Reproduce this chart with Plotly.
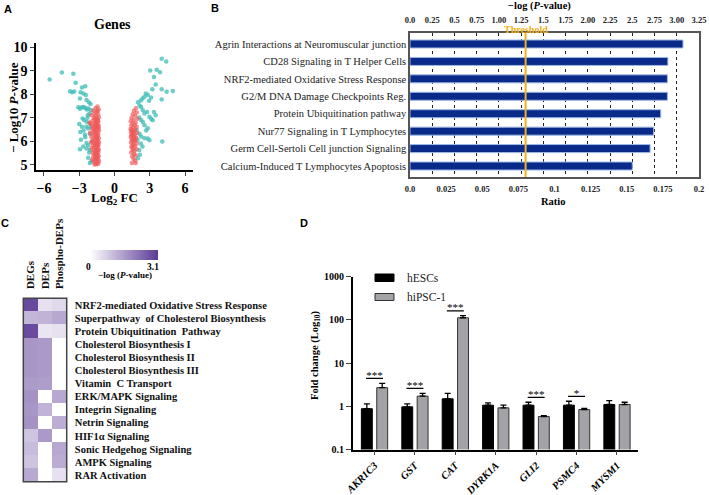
import plotly.graph_objects as go

W, H = 709, 495
def px(x): return x / W
def py(y): return 1 - y / H

SERIF = "Liberation Serif"
SANS = "Liberation Sans"

# ---------------- Panel A: volcano data ----------------
teal_left_x = [-5.52, -4.48, -3.50, -3.31, -3.78, -3.59, -3.42, -2.77, -2.49, -2.89, -2.66, -2.44, -2.94, -2.38,
               -2.18, -2.04, -3.08, -2.94, -2.77, -2.63, -2.49, -2.35, -2.21, -1.99, -2.13, -2.27, -2.58, -2.38,
               -2.13, -2.77, -2.41, -2.24, -2.63, -2.91, -2.52, -2.10, -2.86, -2.38, -2.24, -2.66, -2.38, -2.10,
               -2.94, -2.16, -2.24, -1.96, -2.10, -2.49, -2.72, -2.30, -3.00, -1.93, -2.04]
teal_left_y = [8.62, 8.92, 8.87, 8.49, 8.13, 8.08, 8.11, 8.28, 8.34, 8.08, 8.03, 7.97, 7.82, 7.75,
               7.66, 7.58, 7.44, 7.38, 7.44, 7.46, 7.41, 7.35, 7.39, 7.32, 7.18, 7.10, 6.90, 6.83,
               6.76, 6.62, 6.62, 6.54, 6.46, 6.39, 6.27, 6.32, 6.06, 5.92, 5.83, 5.77, 5.69, 5.63,
               5.66, 5.52, 5.30, 5.15, 5.07, 6.17, 6.97, 7.00, 6.73, 5.99, 6.62]
teal_right_x = [4.01, 4.40, 3.03, 3.59, 3.87, 3.36, 3.50, 3.22, 4.01, 4.43, 4.96, 2.66, 2.83, 2.55, 2.38, 2.24,
                3.11, 2.94, 4.01, 1.99, 2.13, 2.27, 2.41, 2.55, 2.77, 2.97, 3.36, 3.50, 3.11, 3.25, 2.10, 2.27,
                2.41, 2.55, 2.83, 2.69, 2.13, 2.27, 2.55, 2.83, 2.97, 4.06, 2.24, 2.38, 2.10, 2.16, 1.99, 1.88, 1.96]
teal_right_y = [9.51, 9.39, 9.01, 9.04, 8.93, 8.73, 8.41, 8.21, 8.21, 8.10, 8.14, 8.03, 7.97, 7.89, 7.82, 7.73,
                7.86, 7.72, 7.77, 7.66, 7.52, 7.45, 7.32, 7.18, 7.24, 7.04, 7.24, 7.10, 6.96, 6.89, 7.01, 6.90,
                6.82, 6.68, 6.55, 6.46, 6.32, 6.20, 6.13, 6.11, 6.04, 5.99, 5.90, 5.77, 5.63, 5.42, 5.28, 6.48, 6.06]
red_left_x = [-1.45, -1.62, -1.35, -1.80, -1.52, -1.70, -1.40, -1.95, -1.58, -1.33, -1.75, -1.48, -1.65, -1.88,
              -1.38, -1.55, -1.72, -1.43, -2.02, -1.60, -1.35, -1.82, -1.50, -1.68, -1.40, -1.92, -1.57, -1.32,
              -1.76, -1.46, -1.64, -1.85, -1.38, -1.53, -1.70, -1.44, -1.98, -1.60, -1.34, -1.80, -1.49, -1.67,
              -1.41, -1.89, -1.56, -1.31, -1.74, -1.47, -1.63, -1.37, -1.83, -1.52, -1.69, -1.42, -1.94, -1.58,
              -1.33, -1.78, -1.48, -1.65, -1.39, -1.86, -1.54, -1.71, -1.43, -1.60, -1.35, -1.81, -1.50, -1.66,
              -1.40, -1.90, -1.57, -1.32, -1.75, -1.46, -1.62, -1.38, -1.53, -1.70, -1.44, -1.59, -1.36, -1.51,
              -1.45, -1.55, -1.61, -1.73, -1.42, -1.58, -2.08, -1.99, -2.12, -1.47, -1.66]
red_left_y = [7.48, 7.40, 7.35, 7.30, 7.25, 7.18, 7.15, 7.10, 7.08, 7.02, 7.00, 6.95, 6.92, 6.88,
              6.85, 6.82, 6.78, 6.75, 6.72, 6.70, 6.66, 6.64, 6.60, 6.57, 6.54, 6.52, 6.48, 6.45,
              6.43, 6.40, 6.37, 6.33, 6.30, 6.28, 6.25, 6.21, 6.19, 6.16, 6.13, 6.11, 6.08, 6.05,
              6.02, 6.00, 5.97, 5.94, 5.92, 5.89, 5.86, 5.83, 5.81, 5.78, 5.75, 5.72, 5.70, 5.67,
              5.64, 5.62, 5.59, 5.56, 5.53, 5.51, 5.48, 5.45, 5.42, 5.39, 5.36, 5.34, 5.31, 5.28,
              5.25, 5.22, 5.19, 5.16, 5.13, 5.10, 5.07, 5.04, 5.02, 5.01, 7.28, 6.98, 6.58, 6.20,
              5.85, 5.45, 6.75, 6.50, 6.90, 5.25, 6.35, 5.95, 6.80, 5.60, 6.65]
red_right_x = [1.82, 1.65, 1.90, 1.55, 1.75, 1.45, 1.95, 1.62, 1.38, 1.80, 1.52, 1.70, 1.42, 1.88, 1.60,
               1.36, 1.76, 1.48, 1.66, 1.40, 1.92, 1.56, 1.72, 1.44, 1.62, 1.38, 1.84, 1.52, 1.68, 1.46,
               1.78, 1.58, 1.40, 1.90, 1.64, 1.50, 1.74, 1.44, 1.60, 1.86, 1.54, 1.70, 1.42, 1.66, 1.80,
               1.50, 1.62, 1.75, 1.48, 1.80, 1.58, 1.50, 1.64, 1.46, 1.70]
red_right_y = [7.40, 7.30, 7.22, 7.15, 7.08, 7.00, 6.95, 6.90, 6.85, 6.80, 6.75, 6.70, 6.66, 6.62, 6.58,
               6.52, 6.50, 6.46, 6.42, 6.38, 6.35, 6.32, 6.28, 6.25, 6.22, 6.18, 6.15, 6.12, 6.08, 6.05,
               6.02, 5.98, 5.95, 5.90, 5.86, 5.82, 5.78, 5.74, 5.70, 5.66, 5.62, 5.58, 5.52, 5.45, 5.40,
               5.35, 5.25, 5.18, 5.07, 5.07, 6.40, 6.30, 6.05, 6.48, 6.15]
volcano_xticks = [-6, -3, 0, 3, 6]
volcano_yticks = [5, 6, 7, 8, 9, 10]

# ---------------- Panel B: pathway bars ----------------
pathways = ["Agrin Interactions at Neuromuscular junction", "CD28 Signaling in T Helper Cells",
            "NRF2-mediated Oxidative Stress Response", "G2/M DNA Damage Checkpoints Reg.",
            "Protein Ubiquitination pathway", "Nur77 Signaling in T Lymphocytes",
            "Germ Cell-Sertoli Cell junction Signaling", "Calcium-Induced T Lymphocytes Apoptosis"]
neglogp = [3.07, 2.90, 2.895, 2.895, 2.82, 2.74, 2.70, 2.50]
threshold = 1.3
top_ticks = [0, 0.25, 0.5, 0.75, 1.0, 1.25, 1.5, 1.75, 2.0, 2.25, 2.5, 2.75, 3.0, 3.25]
top_ticktext = ["0.0", "0.25", "0.5", "0.75", "1.00", "1.25", "1.5", "1.75", "2.00", "2.25", "2.5",
                "2.75", "3.00", "3.25"]
ratio_ticks = [0, 0.025, 0.05, 0.075, 0.1, 0.125, 0.15, 0.175, 0.2]
ratio_ticktext = ["0.0", "0.025", "0.05", "0.075", "0.1", "0.125", "0.15", "0.175", "0.2"]

# ---------------- Panel C: heatmap ----------------
heat_cols = ["DEGs", "DEPs", "Phospho-DEPs"]
heat_rows = ["NRF2-mediated Oxidative Stress Response", "Superpathway  of Cholesterol Biosynthesis",
             "Protein Ubiquitination  Pathway", "Cholesterol Biosynthesis I", "Cholesterol Biosynthesis II",
             "Cholesterol Biosynthesis III", "Vitamin  C Transport", "ERK/MAPK Signaling",
             "Integrin Signaling", "Netrin Signaling", "HIF1α Signaling", "Sonic Hedgehog Signaling",
             "AMPK Signaling", "RAR Activation"]
heat_z = [[2.87, 0.48, 0.60],
          [1.14, 1.20, 1.37],
          [2.85, 0.40, 0.48],
          [1.65, 1.60, 0.0],
          [1.65, 1.60, 0.0],
          [1.65, 1.60, 0.0],
          [1.58, 1.55, 0.0],
          [1.70, 0.0, 1.37],
          [1.65, 1.19, 0.0],
          [1.70, 0.0, 1.29],
          [0.92, 1.60, 0.0],
          [1.05, 0.0, 1.37],
          [0.93, 0.0, 1.30],
          [1.35, 0.0, 0.48]]
heat_max = 3.1

# ---------------- Panel D: fold change ----------------
genes = ["AKR1C3", "GST", "CAT", "DYRK1A", "GLI2", "PSMC4", "MYSM1"]
hesc = [0.88, 0.97, 1.49, 1.06, 1.06, 1.06, 1.10]
hesc_err = [0.26, 0.17, 0.50, 0.14, 0.18, 0.25, 0.26]
hipsc = [2.70, 1.72, 112.0, 0.92, 0.58, 0.84, 1.10]
hipsc_err = [0.70, 0.27, 13.0, 0.14, 0.03, 0.06, 0.14]
sig_idx = [0, 1, 2, 4, 5]
sig_text = ["***", "***", "***", "***", "*"]
fold_ticks = [0.1, 1, 10, 100, 1000]
fold_ticktext = ["0.1", "1", "10", "100", "1000"]

fig = go.Figure()

# A traces
fig.add_trace(go.Scatter(x=teal_left_x + teal_right_x, y=teal_left_y + teal_right_y, mode="markers",
                         marker=dict(color="rgba(60,188,182,0.75)", size=4.5, line=dict(width=0)),
                         xaxis="x", yaxis="y", showlegend=False, hoverinfo="skip"))
fig.add_trace(go.Scatter(x=red_left_x + red_right_x, y=red_left_y + red_right_y, mode="markers",
                         marker=dict(color="rgba(240,88,88,0.68)", size=4.5, line=dict(width=0)),
                         xaxis="x", yaxis="y", showlegend=False, hoverinfo="skip"))

# B trace (on the top -log(P) axis x2)
fig.add_trace(go.Bar(x=neglogp, y=pathways, orientation="h", xaxis="x2", yaxis="y2", width=0.46,
                     marker=dict(color="#0A2A8A", line=dict(color="#9FB9E6", width=1.0)),
                     showlegend=False, hoverinfo="skip"))
# invisible helper so the bottom Ratio axis (x3) gets drawn
fig.add_trace(go.Scatter(x=[ratio_ticks[0], ratio_ticks[-1]], y=[pathways[0], pathways[0]], mode="markers",
                         marker=dict(opacity=0, size=1), xaxis="x3", yaxis="y2", showlegend=False,
                         hoverinfo="skip"))

# C trace
fig.add_trace(go.Heatmap(z=heat_z, x=heat_cols, y=heat_rows, xaxis="x4", yaxis="y4",
                         colorscale=[[0, "#FFFFFF"], [1, "#5B3A96"]], zmin=0, zmax=heat_max,
                         colorbar=dict(orientation="h", x=px(90), xanchor="left", y=py(250), yanchor="top",
                                       len=68, lenmode="pixels", thickness=10, outlinewidth=0,
                                       xpad=0, ypad=0, showticklabels=False, ticks=""),
                         hoverinfo="skip"))

# D traces
idx = list(range(len(genes)))
fig.add_trace(go.Bar(x=idx, y=hesc, xaxis="x5", yaxis="y5", offsetgroup="a", name="hESCs",
                     marker=dict(color="#000000", line=dict(color="#000000", width=1)),
                     error_y=dict(type="data", symmetric=False, array=hesc_err, arrayminus=[0] * 7,
                                  color="#000000", thickness=1.3, width=3),
                     showlegend=False, hoverinfo="skip"))
fig.add_trace(go.Bar(x=idx, y=hipsc, xaxis="x5", yaxis="y5", offsetgroup="b", name="hiPSC-1",
                     marker=dict(color="#A3A3A7", line=dict(color="#333333", width=1)),
                     error_y=dict(type="data", symmetric=False, array=hipsc_err, arrayminus=[0] * 7,
                                  color="#000000", thickness=1.3, width=3),
                     showlegend=False, hoverinfo="skip"))
for i, t in zip(sig_idx, sig_text):
    top = max(hesc[i] + hesc_err[i], hipsc[i] + hipsc_err[i])
    yl = top * 1.3
    fig.add_trace(go.Scatter(x=[i - 0.21, i + 0.21], y=[yl, yl], mode="lines",
                             line=dict(color="#000000", width=1.2), xaxis="x5", yaxis="y5",
                             showlegend=False, hoverinfo="skip"))
    fig.add_trace(go.Scatter(x=[i], y=[yl * 1.12], mode="text", text=[t], textposition="middle center",
                             textfont=dict(family=SERIF, size=11, color="#000000"),
                             xaxis="x5", yaxis="y5", showlegend=False, hoverinfo="skip"))

axcommon = dict(showgrid=False, zeroline=False)
bold_serif = lambda s, c="#000000": dict(family=SERIF, size=s, color=c, weight="bold")
B_DOMAIN = [px(410), px(699)]

fig.update_layout(
    width=W, height=H, margin=dict(l=0, r=0, t=0, b=0, autoexpand=False),
    paper_bgcolor="white", plot_bgcolor="rgba(0,0,0,0)",
    barmode="group", bargap=0.24, bargroupgap=0.29,
    # A
    xaxis=dict(domain=[px(36), px(192.7)], range=[-6.68, 6.65], anchor="y", tickvals=volcano_xticks,
               showline=True, linecolor="#000", linewidth=1.5, ticks="outside", ticklen=4, tickwidth=1.3,
               tickfont=bold_serif(14), **axcommon),
    yaxis=dict(domain=[py(170), py(42.7)], range=[4.775, 10.19], anchor="x", tickvals=volcano_yticks,
               showline=True, linecolor="#000", linewidth=1.5, ticks="outside", ticklen=4, tickwidth=1.3,
               tickfont=bold_serif(14), **axcommon),
    # B: top axis (-log P), carries the bars
    xaxis2=dict(domain=B_DOMAIN, range=[0, 3.25], anchor="y2", side="top",
                tickvals=top_ticks, ticktext=top_ticktext, showgrid=True, griddash="dot", gridcolor="#222",
                gridwidth=1, zeroline=False, showline=True, mirror=True, linecolor="#555", linewidth=1.5,
                ticks="outside", ticklen=5, tickcolor="rgba(0,0,0,0)", tickfont=bold_serif(8.5, "#222")),
    # B: bottom axis (Ratio)
    xaxis3=dict(domain=B_DOMAIN, range=[0, 0.2], anchor="y2", overlaying="x2", side="bottom",
                tickvals=ratio_ticks, ticktext=ratio_ticktext, showline=False,
                ticks="outside", ticklen=4, tickcolor="rgba(0,0,0,0)",
                tickfont=bold_serif(8.5, "#222"), **axcommon),
    yaxis2=dict(domain=[py(177), py(33)], anchor="x2", type="category", categoryarray=pathways,
                range=[7.63, -0.63], showline=True, mirror=True, linecolor="#555", linewidth=1.5,
                ticks="", tickfont=dict(family=SERIF, size=10.5, color="#222"), **axcommon),
    # C
    xaxis4=dict(domain=[px(23.3), px(66.7)], anchor="y4", side="top", tickangle=-90,
                ticks="outside", ticklen=6, tickcolor="rgba(0,0,0,0)", tickfont=bold_serif(11, "#111"),
                **axcommon),
    yaxis4=dict(domain=[py(481.7), py(298.3)], anchor="x4", side="right", autorange="reversed",
                ticks="outside", ticklen=5, tickcolor="rgba(0,0,0,0)", tickfont=bold_serif(10.5, "#111"),
                **axcommon),
    # D
    xaxis5=dict(domain=[px(352.7), px(638)], range=[-0.54, 6.52], anchor="y5", tickvals=idx, ticktext=genes,
                tickangle=-45, showline=True, linecolor="#000", linewidth=1.5, ticks="outside", ticklen=4,
                tickwidth=1.3, tickfont=dict(family=SERIF, size=10.5, color="#000", weight="bold",
                                             style="italic"), **axcommon),
    yaxis5=dict(domain=[py(449.5), py(276.7)], type="log", range=[-1, 3], anchor="x5", tickvals=fold_ticks,
                ticktext=fold_ticktext, showline=True, linecolor="#000", linewidth=1.5, ticks="outside",
                ticklen=5, tickwidth=1.3, tickfont=bold_serif(10), **axcommon),
)

shapes = [
    dict(type="line", xref="x2", yref="y2 domain", x0=threshold, x1=threshold, y0=0, y1=1,
         line=dict(color="#F2B21B", width=2), layer="above"),
    dict(type="rect", xref="x4 domain", yref="y4 domain", x0=0, x1=1, y0=0, y1=1,
         line=dict(color="#444", width=1.5), layer="above"),
    dict(type="rect", xref="paper", yref="paper", x0=px(375), x1=px(394), y0=py(281.5), y1=py(274),
         fillcolor="#000", line=dict(color="#000", width=1)),
    dict(type="rect", xref="paper", yref="paper", x0=px(375), x1=px(394), y0=py(300.5), y1=py(293.5),
         fillcolor="#A3A3A7", line=dict(color="#333", width=1)),
]
fig.update_layout(shapes=shapes)

def ann(text, x, y, size, family=SERIF, color="#000", angle=0, xanchor="center", xref="paper", bold=True):
    return dict(text=text, x=x, y=y, xref=xref, yref="paper", showarrow=False, textangle=angle,
                xanchor=xanchor, yanchor="middle",
                font=dict(family=family, size=size, color=color, weight="bold" if bold else "normal"))

annotations = [
    ann("A", px(8), py(9), 11, SANS),
    ann("B", px(215), py(8), 11, SANS),
    ann("C", px(5), py(223), 11, SANS),
    ann("D", px(304), py(223), 11, SANS),
    ann("Genes", px(112), py(25), 14),
    ann("− Log10 <i>P</i>-value", px(14), py(108), 13, angle=-90),
    ann("Log<sub>2</sub> FC", px(114), py(199), 13),
    ann("−log (<i>P</i>-value)", px(539), py(6), 10.5),
    ann("Ratio", px(553), py(202), 10.5),
    ann("Threshold", threshold, py(29), 10, color="#F2B21B", xref="x2"),
    ann("0", px(88), py(266.5), 9.5),
    ann("3.1", px(153), py(266.5), 9.5),
    ann("−log (<i>P</i>-value)", px(125), py(275), 9),
    ann("Fold change (Log<sub>10</sub>)", px(315), py(355), 10.5, angle=-90),
    ann("hESCs", px(405), py(277.7), 11.5, xanchor="left", color="#222", bold=False),
    ann("hiPSC-1", px(405), py(297.3), 11.5, xanchor="left", color="#222", bold=False),
]
fig.update_layout(annotations=annotations)

fig.write_html("out.html", config={"displayModeBar": False},
               post_script="document.body.style.margin='0px';")
